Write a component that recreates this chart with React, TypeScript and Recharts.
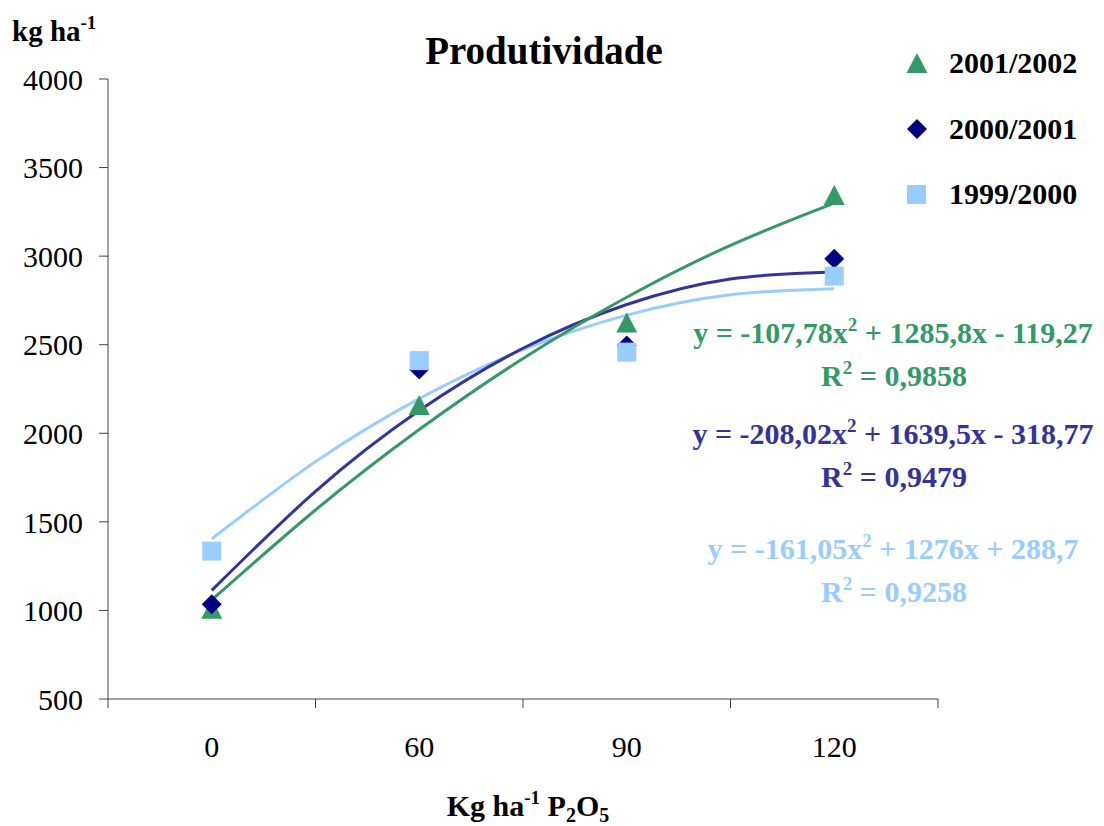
import React from 'react';
import { ComposedChart, Scatter, Line, XAxis, YAxis } from 'recharts';

const FONT = '"Liberation Serif", "Times New Roman", serif';

// categorias do eixo x (dose de P2O5) e posição de cada uma
const doses = ['0', '60', '90', '120'];
const positions = [1, 2, 3, 4];

// produtividade observada (kg/ha)
const prod2001 = [1010, 2160, 2625, 3345];
const prod2000 = [1035, 2360, 2495, 2985];
const prod1999 = [1335, 2410, 2458, 2887];

// linhas de tendência
const trendX = [1, 1.5, 2, 2.5, 3, 3.5, 4];
const trend2001 = [1059, 1567, 2021, 2422, 2768, 3061, 3299];
const trend2000 = [1113, 1672, 2128, 2480, 2727, 2871, 2911];
const trend1999 = [1404, 1840, 2196, 2472, 2667, 2782, 2816];

const yTicks = [500, 1000, 1500, 2000, 2500, 3000, 3500, 4000];
const xTicks = [0.5, 1, 1.5, 2, 2.5, 3, 3.5, 4, 4.5];

const GREEN = '#339966';
const NAVY = '#000080';
const PURPLE = '#333399';
const LIGHT = '#99CCFF';
const AXIS = '#404040';

const points = (vals: number[]) => positions.map((x, i) => ({ x, y: vals[i] }));
const trend = (vals: number[]) => trendX.map((x, i) => ({ x, y: vals[i] }));

const Triangle = ({ cx, cy, fill }: any) => (
  <polygon points={`${cx},${cy - 10} ${cx + 10.5},${cy + 10} ${cx - 10.5},${cy + 10}`} fill={fill} />
);
const Diamond = ({ cx, cy, fill }: any) => (
  <polygon points={`${cx},${cy - 10} ${cx + 10},${cy} ${cx},${cy + 10} ${cx - 10},${cy}`} fill={fill} />
);
const Square = ({ cx, cy, fill }: any) => (
  <rect x={cx - 9.5} y={cy - 9.5} width={19} height={19} fill={fill} />
);

const XTick = ({ x, y, payload }: any) => {
  const v = payload.value;
  if (Number.isInteger(v)) {
    return (
      <text x={x} y={y + 58} textAnchor="middle" fontSize={30} fontFamily={FONT} fill="#000">
        {doses[v - 1]}
      </text>
    );
  }
  return <line x1={x} y1={y} x2={x} y2={y + 9} stroke={AXIS} />;
};

const Equation = ({ y, color, eq }: { y: number; color: string; eq: [string, string, string] }) => (
  <g fontFamily={FONT} fontWeight="bold" fill={color} fontSize={30} textAnchor="middle">
    <text x={893} y={y}>
      {eq[0]}
      <tspan dy={-12} fontSize={19}>2</tspan>
      <tspan dy={12}>{eq[1]}</tspan>
    </text>
    <text x={894} y={y + 43}>
      R<tspan dy={-12} fontSize={19}>2</tspan>
      <tspan dy={12}>{' = ' + eq[2]}</tspan>
    </text>
  </g>
);

export default function App() {
  return (
    <div style={{ position: 'absolute', left: 0, top: 0, width: 1104, height: 826, background: '#fff' }}>
      <ComposedChart width={1104} height={826} margin={{ top: 79, right: 166, bottom: 0, left: 0 }}>
        <XAxis
          type="number"
          dataKey="x"
          domain={[0.5, 4.5]}
          ticks={xTicks}
          interval={0}
          tickSize={0}
          tickMargin={0}
          tickLine={false}
          tick={<XTick />}
          height={127}
          stroke={AXIS}
        />
        <YAxis
          type="number"
          dataKey="y"
          domain={[500, 4000]}
          ticks={yTicks}
          interval={0}
          width={108}
          tickSize={9}
          tickMargin={16}
          stroke={AXIS}
          tick={{ fill: '#000', fontSize: 30, fontFamily: FONT }}
        />
        <Scatter data={points(prod2001)} dataKey="y" fill={GREEN} shape={<Triangle />} isAnimationActive={false} />
        <Scatter data={points(prod2000)} dataKey="y" fill={NAVY} shape={<Diamond />} isAnimationActive={false} />
        <Scatter data={points(prod1999)} dataKey="y" fill={LIGHT} shape={<Square />} isAnimationActive={false} />
        <Line data={trend(trend1999)} dataKey="y" type="natural" stroke={LIGHT} strokeWidth={3} dot={false} isAnimationActive={false} />
        <Line data={trend(trend2000)} dataKey="y" type="natural" stroke={PURPLE} strokeWidth={3} dot={false} isAnimationActive={false} />
        <Line data={trend(trend2001)} dataKey="y" type="natural" stroke={GREEN} strokeWidth={3} dot={false} isAnimationActive={false} />
      </ComposedChart>

      <svg width={1104} height={826} style={{ position: 'absolute', left: 0, top: 0, pointerEvents: 'none' }}>
        <text x={12} y={41} fontFamily={FONT} fontWeight="bold" fontSize={29}>
          kg ha<tspan dy={-12} fontSize={19}>-1</tspan>
        </text>
        <text x={544} y={64} textAnchor="middle" fontFamily={FONT} fontWeight="bold" fontSize={39}>
          Produtividade
        </text>

        <Triangle cx={917} cy={63} fill={GREEN} />
        <Diamond cx={917} cy={129} fill={NAVY} />
        <Square cx={916.5} cy={194.5} fill={LIGHT} />
        <g fontFamily={FONT} fontWeight="bold" fontSize={30}>
          <text x={949} y={73}>2001/2002</text>
          <text x={949} y={139}>2000/2001</text>
          <text x={949} y={204}>1999/2000</text>
        </g>

        <Equation y={343} color={GREEN} eq={['y = -107,78x', ' + 1285,8x - 119,27', '0,9858']} />
        <Equation y={444} color={PURPLE} eq={['y = -208,02x', ' + 1639,5x - 318,77', '0,9479']} />
        <Equation y={559} color={LIGHT} eq={['y = -161,05x', ' + 1276x + 288,7', '0,9258']} />

        <text x={528} y={816} textAnchor="middle" fontFamily={FONT} fontWeight="bold" fontSize={30}>
          Kg ha<tspan dy={-12} fontSize={19}>-1</tspan>
          <tspan dy={12}> P</tspan>
          <tspan dy={6} fontSize={20}>2</tspan>
          <tspan dy={-6}>O</tspan>
          <tspan dy={6} fontSize={20}>5</tspan>
        </text>
      </svg>
    </div>
  );
}
